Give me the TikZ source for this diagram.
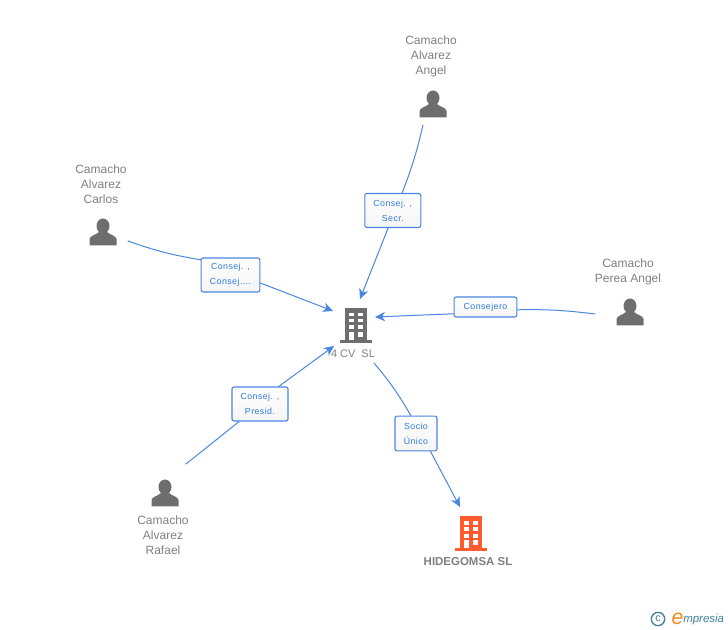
\documentclass[tikz,border=0pt]{standalone}
\usepackage{fontspec}
\setmainfont{Liberation Sans}
\usetikzlibrary{arrows.meta}
\definecolor{linkblue}{HTML}{4A86E0}
\definecolor{textblue}{HTML}{2F7BE0}
\definecolor{namegray}{HTML}{808080}
\definecolor{icongray}{HTML}{6E6E6E}
\definecolor{towerred}{HTML}{FF5B2E}
\definecolor{logoteal}{HTML}{3F8296}
\definecolor{logoorange}{HTML}{F08A1D}
\tikzset{
	namelabel/.style={text=namegray,font=\fontsize{9}{11.2}\selectfont,align=center,inner sep=0pt},
	rel/.style={draw=linkblue,line width=0.8pt,rounded corners=1.5pt,top color=white,bottom color=black!4,text=textblue,font=\fontsize{6.6}{11.2}\selectfont\addfontfeature{LetterSpace=5},align=center,inner sep=0pt},
	link/.style={draw=linkblue,line width=0.75pt},
	person/.pic={
		\fill[icongray] (0,-6) ellipse (6.5 and 7.5);
		\fill[icongray] (-13.5,13.5) -- (-13.5,7) .. controls (-13,3.5) and (-7,3) .. (-4,0) -- (4,0) .. controls (7,3) and (13,3.5) .. (13.5,7) -- (13.5,13.5) -- cycle;
	},
	tower/.pic={
		\fill[#1] (-11,-17) rectangle (10.5,15);
		\fill[#1] (-16,15) rectangle (16,18);
		\foreach \rowtop/\rowbot in {-12/-8.5,-6/-2.5,0.5/4.5} {
			\fill[white] (-7,\rowtop) rectangle (-2.5,\rowbot);
			\fill[white] (2,\rowtop) rectangle (6.5,\rowbot);
		}
		\fill[white] (-7,7) rectangle (-2.5,15);
		\fill[white] (2,7) rectangle (6.5,12);
	},
	>={Stealth[length=7.5pt,width=7pt,inset=2.2pt]},
}
\begin{document}
\begin{tikzpicture}[line cap=round,line join=round,x=0.75pt,y=-0.75pt]
	\useasboundingbox (0,0) rectangle (728,630);
	% people
	\pic at (433,104) {person};
	\pic at (103,232) {person};
	\pic at (630,312) {person};
	\pic at (165,493) {person};
	\node[namelabel] (nameAngel) at (431,56.5) {Camacho\\Alvarez\\Angel};
	\node[namelabel] (nameCarlos) at (101,184.5) {Camacho\\Alvarez\\Carlos};
	\node[namelabel] (namePerea) at (628,272) {Camacho\\Perea Angel};
	\node[namelabel] (nameRafael) at (163,535) {Camacho\\Alvarez\\Rafael};
	% companies
	\pic at (356,325) {tower=icongray};
	\pic at (471,533) {tower=towerred};
	\node[namelabel,font=\fontsize{8.2}{11}\selectfont] (nameCv) at (353,354) {4 CV\ \ SL};
	\node[namelabel,font=\fontsize{8.6}{11}\selectfont\bfseries] (nameHide) at (468,562) {HIDEGOMSA SL};
	% free ends
	\coordinate (fromAngel) at (423,125);
	\coordinate (toAngel) at (360,299);
	\coordinate (fromCarlos) at (128,241);
	\coordinate (toCarlos) at (333,311);
	\coordinate (fromPerea) at (595,314);
	\coordinate (toPerea) at (375,317);
	\coordinate (fromRafael) at (186,464);
	\coordinate (toRafael) at (334,346);
	\coordinate (fromCv) at (374,363);
	\coordinate (toHide) at (460,507);
	% relations
	\node[rel,minimum width=42pt,minimum height=25.5pt] (relAngel) at (392.8,210.5) {Consej. ,\\Secr.};
	\node[rel,minimum width=44pt,minimum height=25.5pt] (relCarlos) at (230.5,275) {Consej. ,\\Consej....};
	\node[rel,minimum width=47pt,minimum height=15pt] (relPerea) at (485.5,307) {Consejero};
	\node[rel,minimum width=42pt,minimum height=25.5pt] (relRafael) at (260,404) {Consej. ,\\Presid.};
	\node[rel,minimum width=31.5pt,minimum height=26pt] (relCv) at (416,433.5) {Socio\\Único};
	\draw[link] (fromAngel) to[bend left=4] (relAngel.62);
	\draw[link,->] (relAngel.-105) -- (toAngel);
	\draw[link] (fromCarlos) to[bend right=5] (relCarlos.153);
	\draw[link,->] (relCarlos.-15) -- (toCarlos);
	\draw[link] (fromPerea) to[bend right=4] (relPerea.-5);
	\draw[link,->] (relPerea.192) -- (toPerea);
	\draw[link] (fromRafael) -- (relRafael.220);
	\draw[link,->] (relRafael.43) -- (toRafael);
	\draw[link] (fromCv) to[bend left=5] (relCv.106);
	\draw[link,->] (relCv.-51) -- (toHide);
	% logo
	\node[draw=logoteal,line width=1pt,circle,inner sep=0pt,minimum size=10pt,text=logoteal,font=\fontsize{8}{8}\selectfont] (logoMark) at (658,619) {c};
	\node[inner sep=0pt,text=logoorange,font=\fontsize{16}{16}\selectfont\itshape] (logoE) at (677.5,619) {e};
	\node[inner sep=0pt,text=logoteal,font=\fontsize{8.6}{9}\selectfont\itshape,anchor=west] (logoText) at (683,620) {mpresia};
\end{tikzpicture}
\end{document}
